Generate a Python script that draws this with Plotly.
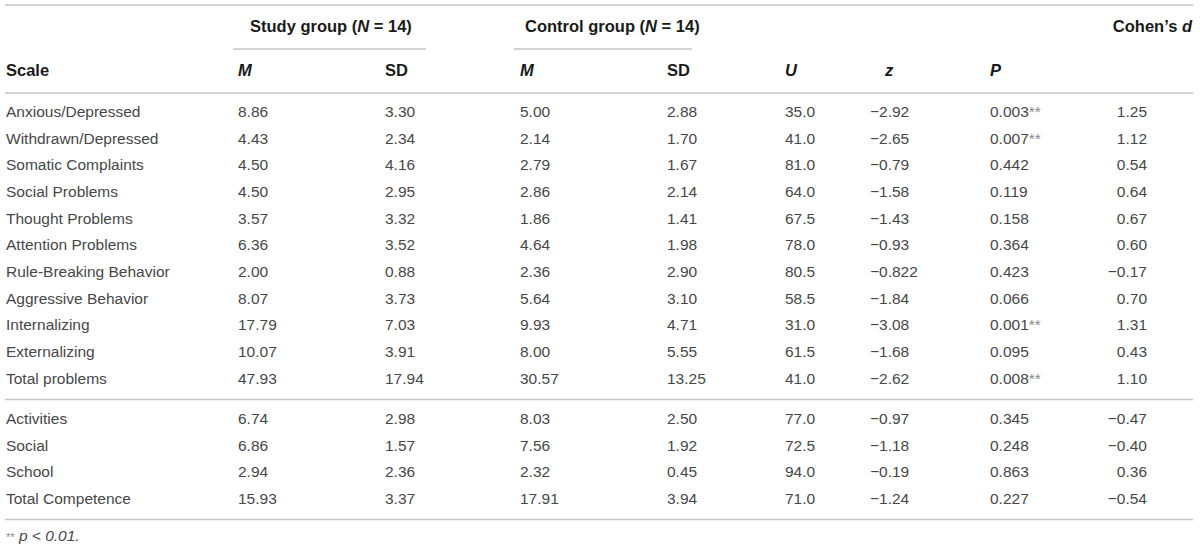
import plotly.graph_objects as go

# table values
scales = ["Anxious/Depressed", "Withdrawn/Depressed", "Somatic Complaints", "Social Problems",
          "Thought Problems", "Attention Problems", "Rule-Breaking Behavior", "Aggressive Behavior",
          "Internalizing", "Externalizing", "Total problems",
          "Activities", "Social", "School", "Total Competence"]
study_m = [8.86, 4.43, 4.50, 4.50, 3.57, 6.36, 2.00, 8.07, 17.79, 10.07, 47.93, 6.74, 6.86, 2.94, 15.93]
study_sd = [3.30, 2.34, 4.16, 2.95, 3.32, 3.52, 0.88, 3.73, 7.03, 3.91, 17.94, 2.98, 1.57, 2.36, 3.37]
control_m = [5.00, 2.14, 2.79, 2.86, 1.86, 4.64, 2.36, 5.64, 9.93, 8.00, 30.57, 8.03, 7.56, 2.32, 17.91]
control_sd = [2.88, 1.70, 1.67, 2.14, 1.41, 1.98, 2.90, 3.10, 4.71, 5.55, 13.25, 2.50, 1.92, 0.45, 3.94]
u_vals = [35.0, 41.0, 81.0, 64.0, 67.5, 78.0, 80.5, 58.5, 31.0, 61.5, 41.0, 77.0, 72.5, 94.0, 71.0]
z_vals = [-2.92, -2.65, -0.79, -1.58, -1.43, -0.93, -0.822, -1.84, -3.08, -1.68, -2.62, -0.97, -1.18, -0.19, -1.24]
p_vals = [0.003, 0.007, 0.442, 0.119, 0.158, 0.364, 0.423, 0.066, 0.001, 0.095, 0.008, 0.345, 0.248, 0.863, 0.227]
cohen_d = [1.25, 1.12, 0.54, 0.64, 0.67, 0.60, -0.17, 0.70, 1.31, 0.43, 1.10, -0.47, -0.40, 0.36, -0.54]
n_problem_rows = 11  # rows above the separator (problem scales)

BODY_FONT = dict(family="Liberation Sans, Arial, sans-serif", size=15.5, color="#474747")
HEAD_FONT = dict(family="Liberation Sans, Arial, sans-serif", size=16.5, color="#1a1a1a")
RULE = dict(color="#c4c4c4", width=1.6)


def minus(s):
    return s.replace("-", "\u2212")


def stars(p):
    if p < 0.01:
        return f"{p:.3f}<span style='color:#8a8a8a'>**</span>"
    return f"{p:.3f}"


# vertical position of each body row (pixels from top)
row_y = []
for i in range(len(scales)):
    y = 113 + 26.7 * i
    if i >= n_problem_rows:
        y += 13.3
    row_y.append(y)

columns = [
    (6, scales, "middle right"),
    (238, [f"{v:.2f}" for v in study_m], "middle right"),
    (385, [f"{v:.2f}" for v in study_sd], "middle right"),
    (520, [f"{v:.2f}" for v in control_m], "middle right"),
    (667, [f"{v:.2f}" for v in control_sd], "middle right"),
    (785, [f"{v:.1f}" for v in u_vals], "middle right"),
    (870, [minus(f"{v:g}") for v in z_vals], "middle right"),
    (990, [stars(v) for v in p_vals], "middle right"),
    (1147, [minus(f"{v:.2f}") for v in cohen_d], "middle left"),
]

fig = go.Figure()
for x, texts, pos in columns:
    fig.add_trace(go.Scatter(
        x=[x] * len(texts), y=row_y, text=texts, mode="text",
        textposition=pos, textfont=BODY_FONT, hoverinfo="skip", showlegend=False,
    ))

# header cells
head_x = [250, 525, 1192, 6, 238, 385, 520, 667, 785, 885, 990]
head_y = [28, 28, 28, 72, 72, 72, 72, 72, 72, 72, 72]
head_text = ["<b>Study group (<i>N</i> = 14)</b>", "<b>Control group (<i>N</i> = 14)</b>",
             "<b>Cohen\u2019s <i>d</i></b>", "<b>Scale</b>", "<b><i>M</i></b>", "<b>SD</b>",
             "<b><i>M</i></b>", "<b>SD</b>", "<b><i>U</i></b>", "<b><i>z</i></b>", "<b><i>P</i></b>"]
head_pos = ["middle right"] * 2 + ["middle left"] + ["middle right"] * 8
fig.add_trace(go.Scatter(
    x=head_x, y=head_y, text=head_text, mode="text", textposition=head_pos,
    textfont=HEAD_FONT, hoverinfo="skip", showlegend=False,
))

# footnote
fig.add_trace(go.Scatter(
    x=[6], y=[537], text=["<span style='font-size:11px;color:#8a8a8a'>**</span> <i>p &lt; 0.01.</i>"],
    mode="text", textposition="middle right", textfont=BODY_FONT,
    hoverinfo="skip", showlegend=False,
))

# table rules
for x0, x1, y in [(5, 1193, 5), (233, 426, 49), (514, 692, 49), (5, 1193, 93),
                  (5, 1193, 399.5), (5, 1193, 519.5)]:
    fig.add_shape(type="line", x0=x0, x1=x1, y0=y, y1=y, xref="x", yref="y", line=RULE)

fig.update_xaxes(range=[0, 1200], visible=False, fixedrange=True)
fig.update_yaxes(range=[549, 0], visible=False, fixedrange=True)
fig.update_layout(
    width=1200, height=549,
    margin=dict(l=0, r=0, t=0, b=0),
    paper_bgcolor="white", plot_bgcolor="white",
)

fig.write_html("out.html", config={"displayModeBar": False},
               post_script="document.body.style.margin='0';document.body.style.overflow='hidden';")
